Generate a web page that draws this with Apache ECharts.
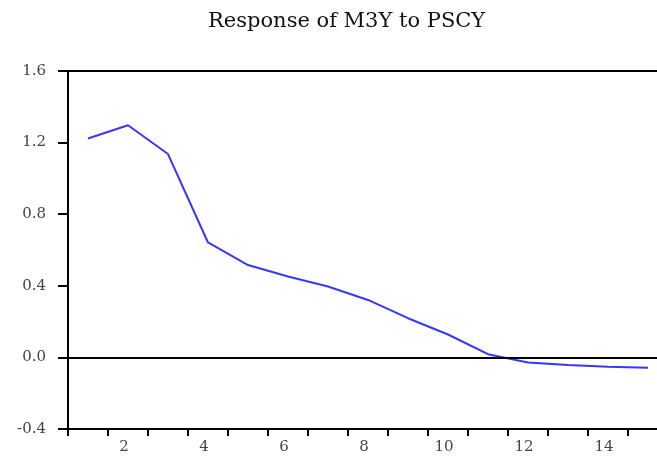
<!DOCTYPE html>
<html>
<head>
<meta charset="utf-8">
<script src="https://cdn.jsdelivr.net/npm/echarts@6/dist/echarts.min.js"></script>
<style>
  html, body { margin: 0; padding: 0; background: #fff; overflow: hidden; }
  /* plot frame runs past the right edge of the window, like the original */
  #chart { width: 690px; height: 456px; }
</style>
</head>
<body>
<div id="chart"></div>
<script>
// ===== Data =====
const periods  = ['1','2','3','4','5','6','7','8','9','10','11','12','13','14','15'];
const response = [1.223, 1.297, 1.136, 0.642, 0.516, 0.452, 0.396, 0.321, 0.219, 0.128, 0.018, -0.028, -0.042, -0.052, -0.058];
const yTicks   = { min: -0.4, max: 1.6, step: 0.4 };

const FONT = '"DejaVu Serif", "Liberation Serif", serif';
const INK  = '#000';
const DIM  = '#444';

const chart = echarts.init(document.getElementById('chart'));
chart.setOption({
  animation: false,
  title: {
    text: 'Response of M3Y to PSCY',
    left: 203, top: 6,
    textStyle: { fontFamily: FONT, fontSize: 21, fontWeight: 'normal', color: '#111' }
  },
  grid: { left: 68, top: 71, width: 600, height: 358, show: true, borderColor: INK, borderWidth: 2, backgroundColor: 'transparent' },
  xAxis: {
    type: 'category', data: periods, boundaryGap: true,
    axisLine: { onZero: false, lineStyle: { color: INK, width: 2 } },
    axisTick: { show: true, interval: 0, length: 7, lineStyle: { color: INK, width: 2 } },
    axisLabel: {
      interval: (i) => i % 2 === 1,
      margin: 11, padding: [0, 8, 0, 0],
      color: DIM, fontFamily: FONT, fontSize: 15
    },
    splitLine: { show: false }
  },
  yAxis: {
    type: 'value', min: yTicks.min, max: yTicks.max, interval: yTicks.step,
    axisLine: { show: true, lineStyle: { color: INK, width: 2 } },
    axisTick: { show: true, length: 10, lineStyle: { color: INK, width: 2 } },
    axisLabel: { margin: 22, color: DIM, fontFamily: FONT, fontSize: 15, formatter: v => v.toFixed(1) },
    splitLine: { show: false }
  },
  series: [{
    type: 'line', data: response, symbol: 'none',
    lineStyle: { color: '#3636ff', width: 2 },
    markLine: {
      symbol: 'none', silent: true, label: { show: false },
      lineStyle: { color: INK, width: 2, type: 'solid' },
      data: [{ yAxis: 0 }]
    }
  }]
});
</script>
</body>
</html>
